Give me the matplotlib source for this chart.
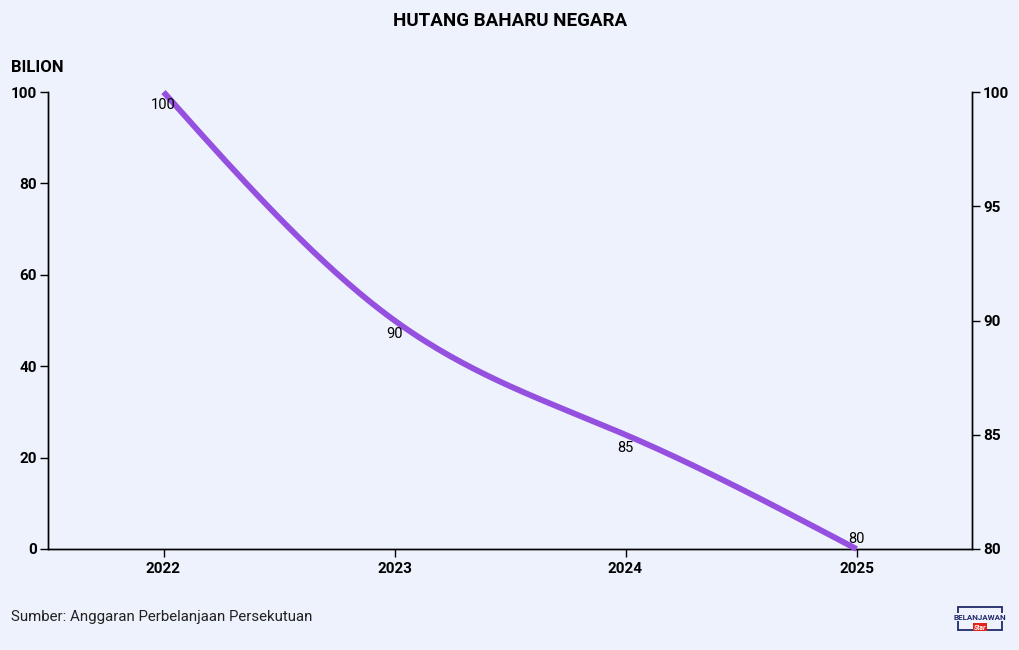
import numpy as np
import matplotlib.pyplot as plt
from matplotlib.patches import Rectangle

# data
years = [2022, 2023, 2024, 2025]
hutang = [100, 90, 85, 80]
left_ticks = [0, 20, 40, 60, 80, 100]
right_ticks = [80, 85, 90, 95, 100]

bg = '#EEF2FC'
ungu = '#9650E0'

plt.rcParams['font.family'] = ['Roboto', 'DejaVu Sans']


def natural(x, y, n=60):
    # spline kubik semula jadi (hujung lurus)
    x = np.asarray(x, float)
    y = np.asarray(y, float)
    k = len(x)
    h = np.diff(x)
    A = np.zeros((k, k))
    b = np.zeros(k)
    A[0, 0] = A[-1, -1] = 1
    for i in range(1, k - 1):
        A[i, i - 1] = h[i - 1]
        A[i, i] = 2 * (h[i - 1] + h[i])
        A[i, i + 1] = h[i]
        b[i] = 3 * ((y[i + 1] - y[i]) / h[i] - (y[i] - y[i - 1]) / h[i - 1])
    c = np.linalg.solve(A, b)
    xs, ys = [], []
    for i in range(k - 1):
        bb = (y[i + 1] - y[i]) / h[i] - h[i] * (2 * c[i] + c[i + 1]) / 3
        d = (c[i + 1] - c[i]) / (3 * h[i])
        t = np.linspace(0, h[i], n)
        xs.append(x[i] + t)
        ys.append(y[i] + bb * t + c[i] * t**2 + d * t**3)
    return np.concatenate(xs), np.concatenate(ys)


fig = plt.figure(figsize=(10.2, 6.5), dpi=100, facecolor=bg)
ax = fig.add_axes([48 / 1020, 1 - 549 / 650, 924 / 1020, 457 / 650])
ax.set_facecolor(bg)
ax2 = ax.twinx()

ax.set_xlim(2021.5, 2025.5)
ax.set_ylim(0, 100)
ax2.set_ylim(80, 100)

xs, ys = natural(years, hutang)
ax2.plot(xs, ys, color=ungu, lw=4.2, solid_capstyle='butt', clip_on=False, zorder=3)

# label nilai
for i, (x, v) in enumerate(zip(years, hutang)):
    if i == len(years) - 1:
        ax2.annotate(str(v), (x, v), xytext=(0, 2.5), textcoords='offset points',
                     ha='center', va='bottom', fontsize=10.5, zorder=4)
    else:
        ax2.annotate(str(v), (x, v), xytext=(0, -4.5), textcoords='offset points',
                     ha='center', va='top', fontsize=10.5, zorder=4)

for a in (ax, ax2):
    a.spines['top'].set_visible(False)
    for sp in a.spines.values():
        sp.set_color('black')
        sp.set_linewidth(1)
    a.tick_params(length=6, width=1, labelsize=11, colors='black')

ax.set_xticks(years)
ax.set_xticklabels([str(y) for y in years], fontweight='bold')
ax.set_yticks(left_ticks)
ax.set_yticklabels([str(t) for t in left_ticks], fontweight='bold')
ax2.set_yticks(right_ticks)
ax2.set_yticklabels([str(t) for t in right_ticks], fontweight='bold')
ax.tick_params(axis='y', pad=2)
ax2.tick_params(axis='y', pad=2)

fig.text(0.5, 1 - 21 / 650, 'HUTANG BAHARU NEGARA', ha='center', va='center',
         fontsize=13.5, fontweight='bold')
fig.text(11 / 1020, 1 - 68 / 650, 'BILION', ha='left', va='center',
         fontsize=12, fontweight='bold')
fig.text(11 / 1020, 1 - 617 / 650, 'Sumber: Anggaran Perbelanjaan Persekutuan',
         ha='left', va='center', fontsize=10.8, color='#222222')

# logo kecil
fig.patches.append(Rectangle((958 / 1020, 1 - 630 / 650), 44 / 1020, 23 / 650,
                             transform=fig.transFigure, fill=False,
                             edgecolor='#1F2A6B', lw=1.3))
fig.text(980 / 1020, 1 - 617 / 650, 'BELANJAWAN', ha='center', va='center',
         fontsize=5.8, fontweight='bold', color='#1F2A6B',
         bbox=dict(facecolor=bg, edgecolor='none', pad=0.5))
fig.text(980 / 1020, 1 - 627 / 650, 'Star', ha='center', va='center',
         fontsize=5, fontweight='bold', fontstyle='italic', color='white',
         bbox=dict(facecolor='#E2231A', edgecolor='none', pad=0.6))

fig.savefig('out.png', dpi=100, facecolor=bg)
